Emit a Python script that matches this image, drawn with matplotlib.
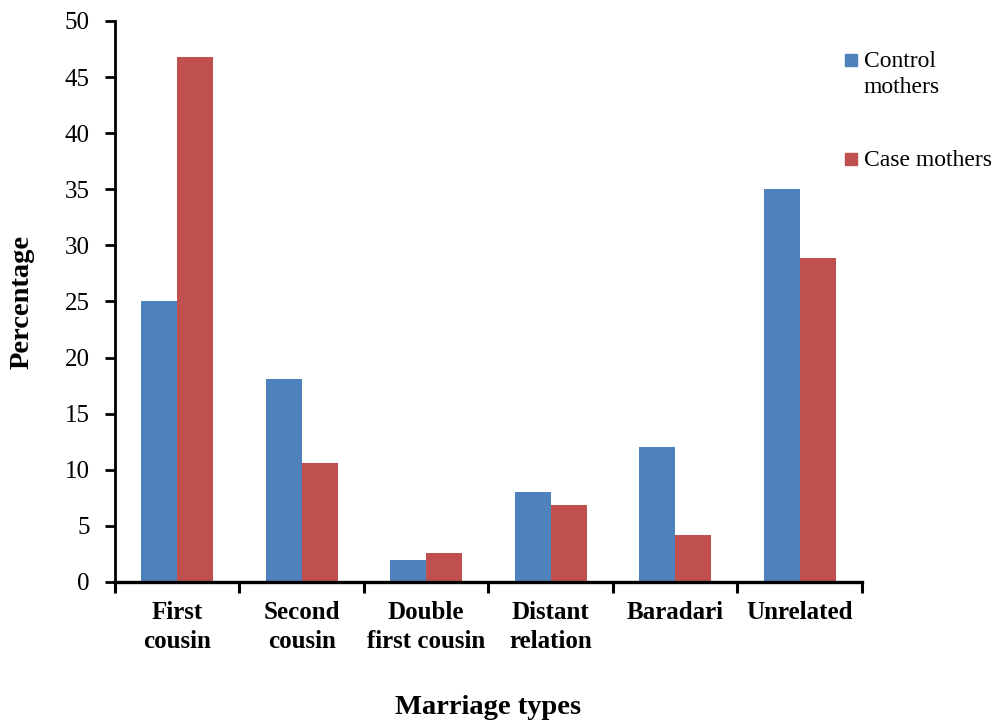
import matplotlib.pyplot as plt
from matplotlib.patches import Rectangle
import numpy as np

plt.rcParams['font.family'] = ['Liberation Serif', 'DejaVu Serif']

# Data
categories = ['First\ncousin', 'Second\ncousin', 'Double\nfirst cousin',
              'Distant\nrelation', 'Baradari', 'Unrelated']
control = [25, 18.1, 2.0, 8.0, 12.0, 35.0]
case = [46.8, 10.6, 2.6, 6.9, 4.2, 28.9]
series_names = ['Control\nmothers', 'Case mothers']
colors = ['#4F81BD', '#C0504D']

fig = plt.figure(figsize=(9.98, 7.21), dpi=100)
ax = fig.add_axes([0.1152, 0.1928, 0.7485, 0.7781])

x = np.arange(len(categories))
w = 0.29
ax.bar(x - w / 2, control, w, color=colors[0])
ax.bar(x + w / 2, case, w, color=colors[1])

ax.set_xlim(-0.5, len(categories) - 0.5)
ax.set_ylim(0, 50)
ax.set_yticks(np.arange(0, 51, 5))

# ticks between categories, labels at the centres
ax.set_xticks(np.arange(-0.5, len(categories), 1))
ax.set_xticklabels([])
ax.set_xticks(x, minor=True)
ax.set_xticklabels(categories, minor=True, fontsize=18, fontweight='bold',
                   linespacing=1.32)
ax.tick_params(axis='x', which='minor', length=0, pad=14)
ax.tick_params(axis='x', which='major', length=8, width=2.2, direction='out')
ax.tick_params(axis='y', length=7, width=2, direction='out', labelsize=18, pad=11)

for s in ['top', 'right']:
    ax.spines[s].set_visible(False)
ax.spines['left'].set_linewidth(2)
ax.spines['bottom'].set_linewidth(2.4)

ax.set_ylabel('Percentage', fontsize=20.5, fontweight='bold', labelpad=22)
ax.set_xlabel('Marriage types', fontsize=20.5, fontweight='bold', labelpad=30)

# legend, squares aligned with the first text line
W, H = 998, 721
legend_rows = [(60, series_names[0], colors[0]), (159, series_names[1], colors[1])]
for yc, name, col in legend_rows:
    fig.patches.append(Rectangle((845 / W, 1 - (yc + 6) / H), 12 / W, 12 / H,
                                 transform=fig.transFigure, color=col))
    fig.text(864 / W, 1 - (yc - 9) / H, name, fontsize=17, va='top',
             linespacing=1.32)

fig.savefig('out.png', dpi=100)
